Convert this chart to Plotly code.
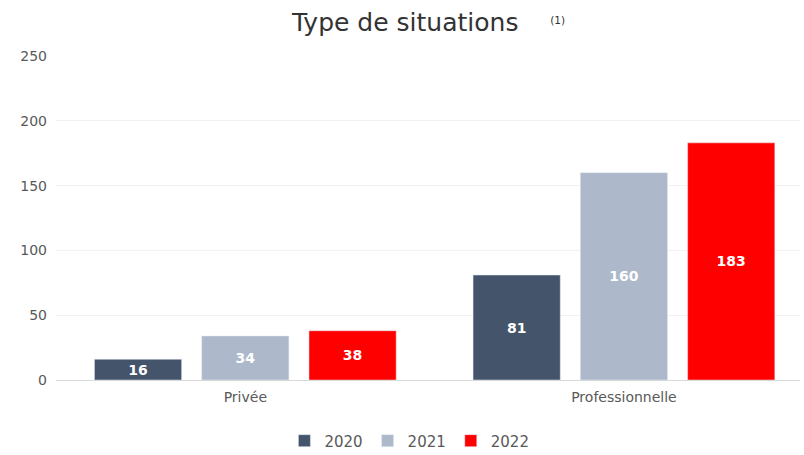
import plotly.graph_objects as go

categories = ["Privée", "Professionnelle"]
years = ["2020", "2021", "2022"]
values_2020 = [16, 81]
values_2021 = [34, 160]
values_2022 = [38, 183]
colors = ["#44546A", "#ADB9CA", "#FF0000"]
y_ticks = [0, 50, 100, 150, 200, 250]

FONT = "DejaVu Sans"

fig = go.Figure()
for name, vals, col in zip(years, [values_2020, values_2021, values_2022], colors):
    fig.add_trace(go.Bar(
        x=categories, y=vals, name=name, marker_color=col,
        text=[str(v) for v in vals], textposition="inside",
        insidetextanchor="middle", textangle=0, constraintext="none",
        textfont=dict(color="white", size=14, family=FONT),
        texttemplate="<b>%{text}</b>",
    ))

fig.update_layout(
    width=804, height=455,
    margin=dict(l=56, r=4, t=56, b=75),
    paper_bgcolor="white", plot_bgcolor="white",
    font=dict(family=FONT, color="#595959"),
    title=dict(
        text=("Type de situations    "
              "<span style='font-size:15px;color:#333333'><sup>(1)</sup></span>"),
        x=0.533, xanchor="center", y=0.952, yanchor="middle",
        font=dict(size=25, color="#333333", family=FONT),
    ),
    barmode="group", bargap=0.15, bargroupgap=0.187,
    showlegend=True,
    legend=dict(orientation="h", x=0.475, xanchor="center",
                yref="container", y=0.031, yanchor="middle",
                font=dict(size=15, color="#595959"), itemwidth=30),
    uniformtext=dict(minsize=10, mode="show"),
)
fig.update_xaxes(range=[-0.5, 1.465], showline=True, linecolor="#d9d9d9", linewidth=1,
                 ticks="", tickfont=dict(size=14, color="#595959"), showgrid=False,
                 ticklabelstandoff=4)
fig.update_yaxes(range=[0, 250], tickvals=y_ticks, showgrid=True, gridcolor="#f2f2f2",
                 zeroline=False, tickfont=dict(size=14, color="#595959"), ticks="",
                 ticklabelstandoff=8)

fig.write_html("out.html", config={"displayModeBar": False})
with open("out.html", "r", encoding="utf-8") as f:
    html = f.read()
html = html.replace("<body>", "<body style=\"margin:0\">", 1)
with open("out.html", "w", encoding="utf-8") as f:
    f.write(html)
